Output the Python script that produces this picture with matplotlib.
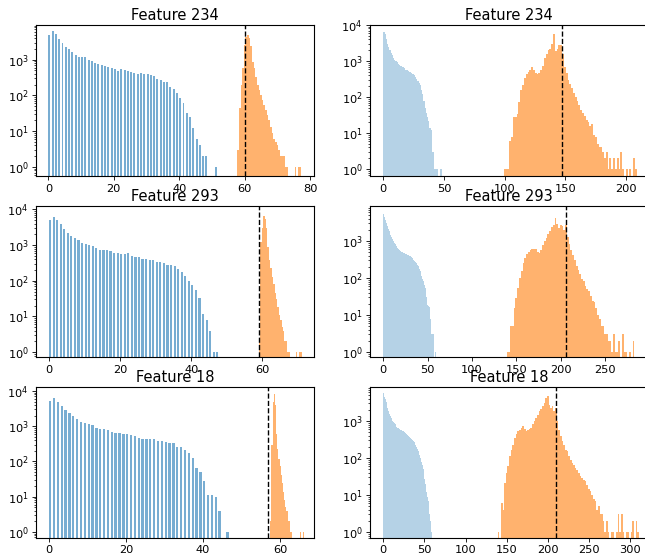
import numpy as np
import matplotlib.pyplot as plt
from matplotlib.ticker import MultipleLocator

titles = ["Feature 234", "Feature 293", "Feature 18"]

# left column: blue counts per integer value, orange counts on a fine grid
blue_l234 = [4900, 6300, 5100, 3800, 2900, 2300, 1950, 1600, 1380, 1210,
             1170, 1170, 980, 920, 790, 760, 710, 650, 610, 600,
             540, 480, 540, 510, 480, 460, 415, 390, 415, 390,
             390, 370, 350, 280, 270, 240, 235, 175, 150, 120,
             86, 62, 33, 25, 12, 6, 4, 2, 2, 0, 0, 1]
orange_l234_start, orange_l234_step = 58.0, 0.5
orange_l234 = [3, 44, 195, 570, 2600, 4400, 4900, 4000, 2400, 870,
               570, 330, 195, 140, 102, 74, 54, 39, 28, 20,
               13, 9, 6, 5, 4, 3, 2, 2, 2, 1,
               1, 0, 0, 0, 0, 1, 0, 1, 1]

blue_l293 = [4900, 6100, 4900, 3800, 2900, 2200, 1780, 1590, 1350, 1150,
             1100, 1000, 930, 830, 750, 710, 710, 670, 600, 600,
             570, 550, 590, 490, 470, 470, 420, 420, 390, 380,
             330, 330, 320, 285, 270, 255, 220, 180, 134, 100,
             78, 56, 32, 12, 8, 4, 1, 1]
orange_l293_start, orange_l293_step = 59.2, 0.4
orange_l293 = [2, 1200, 3000, 6500, 5500, 3000, 900, 380, 230, 130,
               80, 45, 30, 18, 11, 8, 5, 4, 2, 2,
               1, 1, 0, 0, 0, 0, 1, 0, 1, 1]

blue_l18 = [5200, 6500, 5000, 3700, 2900, 2400, 1950, 1560, 1340, 1200,
            1130, 1050, 870, 850, 810, 780, 680, 650, 630, 610,
            590, 550, 525, 470, 440, 440, 440, 420, 380, 380,
            355, 325, 325, 260, 260, 210, 175, 127, 66, 50,
            28, 11, 11, 10, 4, 0, 1]
orange_l18_start, orange_l18_step = 57.6, 0.3
orange_l18 = [2, 300, 5000, 8000, 4000, 600, 220, 120, 75, 40,
              25, 14, 8, 5, 4, 2, 2, 1, 1, 0,
              0, 0, 0, 0, 0, 0, 1, 0, 1]

# right column
blue_r234 = [6500, 5600, 4000, 3000, 2400, 2000, 1700, 1450, 1200, 1100,
             1000, 950, 850, 780, 730, 700, 680, 630, 580, 550,
             530, 510, 500, 470, 430, 400, 350, 310, 280, 250,
             215, 160, 120, 80, 50, 36, 28, 22, 14, 12,
             3, 3, 1, 1, 1, 0, 0, 1]
orange_r234_start, orange_r234_step = 100.0, 1.5
orange_r234 = [1, 1, 1, 6, 8, 28, 28, 34, 72, 160,
               220, 330, 440, 500, 550, 690, 580, 480, 450, 470,
               560, 750, 1200, 1600, 2000, 2200, 3000, 5500, 1900, 2100,
               2800, 2700, 1600, 700, 470, 300, 230, 180, 130, 100,
               80, 60, 45, 36, 29, 23, 20, 16, 18, 9,
               8, 5, 4, 4, 3, 2, 3, 1, 2, 1,
               2, 1, 2, 1, 3, 1, 0, 1, 0, 1,
               0, 2, 1]

blue_r293 = [5500, 4500, 3800, 3100, 2500, 2150, 1850, 1600, 1420, 1250,
             1120, 1000, 900, 820, 750, 690, 640, 600, 560, 535,
             515, 500, 485, 475, 460, 450, 440, 425, 410, 400,
             390, 370, 350, 330, 310, 290, 270, 250, 230, 210,
             180, 155, 130, 112, 95, 82, 65, 54, 30, 19,
             18, 17, 16, 8, 3, 3, 3, 0, 1]
orange_r293_start, orange_r293_step = 140.0, 2.0
orange_r293 = [1, 1, 5, 5, 15, 29, 54, 100, 155, 260,
               350, 440, 490, 560, 600, 620, 600, 500, 470, 560,
               780, 1000, 1200, 1500, 1850, 2400, 2700, 4200, 2800, 2200,
               2700, 2600, 2000, 2700, 1300, 850, 560, 420, 300, 210,
               160, 130, 95, 83, 62, 50, 44, 32, 24, 22,
               15, 10, 8, 5, 5, 3, 3, 2, 2, 1,
               3, 1, 1, 2, 0, 3, 1, 1, 0, 1,
               0, 2]

blue_r18 = [5600, 4600, 3900, 3200, 2600, 2200, 1850, 1600, 1350, 1200,
            1100, 1000, 930, 870, 810, 760, 710, 670, 640, 610,
            590, 570, 560, 550, 530, 500, 480, 460, 440, 420,
            400, 380, 360, 345, 330, 310, 290, 270, 250, 230,
            200, 180, 160, 140, 120, 100, 80, 65, 52, 40,
            28, 20, 12, 9, 7, 5, 3, 2, 1]
orange_r18_start, orange_r18_step = 140.0, 2.0
orange_r18 = [1, 0, 6, 4, 21, 40, 60, 112, 170, 230,
              350, 440, 530, 590, 660, 730, 620, 540, 590, 620,
              660, 810, 1000, 1230, 1500, 1860, 2100, 2550, 3150, 4300,
              4800, 2700, 2300, 2600, 1900, 2300, 1000, 590, 390, 290,
              230, 170, 155, 112, 91, 74, 66, 54, 49, 40,
              32, 29, 26, 24, 19, 15, 13, 10, 8, 7,
              4, 5, 3, 3, 2, 1, 2, 1, 0, 1,
              1, 0, 1, 3, 1, 3, 1, 0, 1, 1,
              0, 1, 2, 0, 2, 1]

thresh_left = [60.0, 59.1, 56.8]
thresh_right = [147.5, 206.0, 210.0]

panels_left = [
    (blue_l234, orange_l234_start, orange_l234_step, orange_l234),
    (blue_l293, orange_l293_start, orange_l293_step, orange_l293),
    (blue_l18, orange_l18_start, orange_l18_step, orange_l18),
]
panels_right = [
    (blue_r234, orange_r234_start, orange_r234_step, orange_r234),
    (blue_r293, orange_r293_start, orange_r293_step, orange_r293),
    (blue_r18, orange_r18_start, orange_r18_step, orange_r18),
]

xlims_left = [(-3.8, 81.2), (-3.66, 74.5), (-3.38, 68.8)]
xlims_right = [(-11, 218), (-15, 298.4), (-16.2, 322)]
ylims_left = [(-0.26, 3.97), (-0.14, 4.10), (-0.17, 4.12)]
ylims_right = [(-0.20, 4.00), (-0.14, 3.95), (-0.16, 3.93)]


def draw(ax, blue, o_start, o_step, orange, thresh, title, xlim, ylim, right):
    bx = np.arange(len(blue))
    if right:
        # wide x range: the integer bins run together into a pale block
        ax.hist(bx, bins=np.arange(len(blue) + 1), weights=blue,
                color="tab:blue", alpha=0.33)
        ax.xaxis.set_major_locator(MultipleLocator(50))
    else:
        ax.bar(bx, blue, width=0.6, align="edge", color="tab:blue", alpha=0.6)
        ax.xaxis.set_major_locator(MultipleLocator(20))
    centers = o_start + o_step * np.arange(len(orange))
    edges = np.append(centers - o_step / 2, centers[-1] + o_step / 2)
    ax.hist(centers, bins=edges, weights=orange, color="tab:orange", alpha=0.6)
    ax.axvline(thresh, color="black", linestyle="--", linewidth=1.0)
    ax.set_yscale("log")
    ax.set_xlim(*xlim)
    ax.set_ylim(10 ** ylim[0], 10 ** ylim[1])
    ax.set_title(title, fontsize=10.5, pad=3.5)
    ax.tick_params(axis="both", which="major", labelsize=8.2, length=2.8,
                   width=0.6, pad=2.5)
    ax.tick_params(axis="both", which="minor", length=1.6, width=0.5)


fig, axes = plt.subplots(3, 2, figsize=(6.45, 5.56), dpi=100)
fig.subplots_adjust(left=36 / 645, right=648 / 645, top=1 - 25 / 556,
                    bottom=1 - 538 / 556, wspace=0.2014, hspace=0.195)

for i in range(3):
    b, s, st, o = panels_left[i]
    draw(axes[i, 0], b, s, st, o, thresh_left[i], titles[i],
         xlims_left[i], ylims_left[i], False)
    b, s, st, o = panels_right[i]
    draw(axes[i, 1], b, s, st, o, thresh_right[i], titles[i],
         xlims_right[i], ylims_right[i], True)

fig.savefig("out.png", dpi=100)
